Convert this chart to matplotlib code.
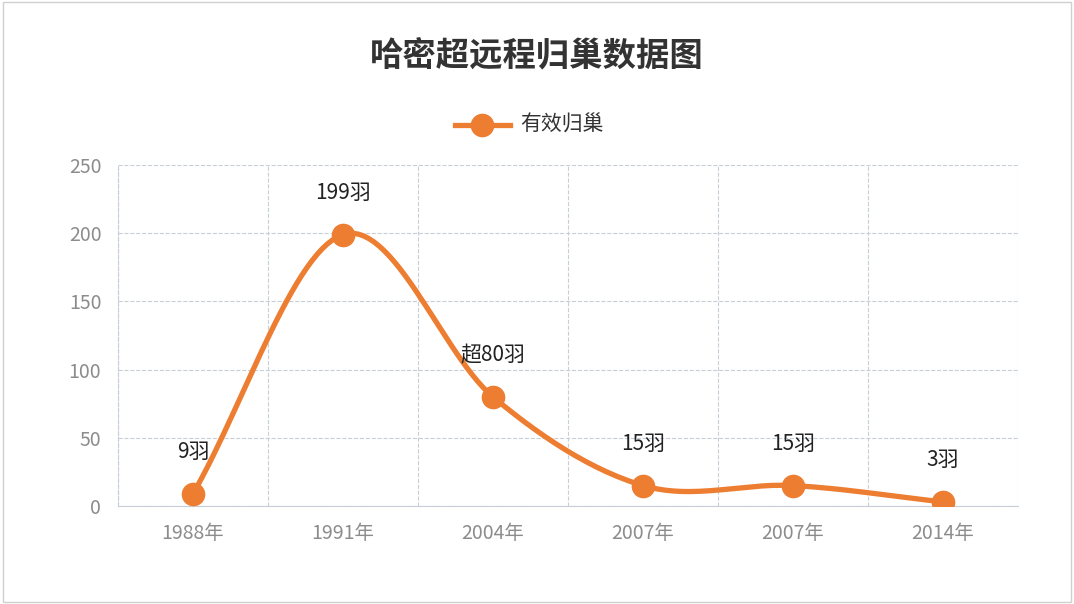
import matplotlib.pyplot as plt
import numpy as np

plt.rcParams['font.family'] = ['Noto Sans CJK SC', 'DejaVu Sans']

years = ['1988年', '1991年', '2004年', '2007年', '2007年', '2014年']
values = [9, 199, 80, 15, 15, 3]
labels = ['9羽', '199羽', '超80羽', '15羽', '15羽', '3羽']
orange = '#ED7D31'


def smooth(x, y, n=30):
    # Catmull-Rom style curve through the points, only for drawing
    x = np.asarray(x, float)
    y = np.asarray(y, float)
    px = np.concatenate([[2 * x[0] - x[1]], x, [2 * x[-1] - x[-2]]])
    py = np.concatenate([[2 * y[0] - y[1]], y, [2 * y[-1] - y[-2]]])
    xs, ys = [], []
    t = np.linspace(0, 1, n)
    for i in range(1, len(px) - 2):
        for p, out in ((px, xs), (py, ys)):
            p0, p1, p2, p3 = p[i - 1], p[i], p[i + 1], p[i + 2]
            out.extend(0.5 * (2 * p1 + (-p0 + p2) * t
                              + (2 * p0 - 5 * p1 + 4 * p2 - p3) * t ** 2
                              + (-p0 + 3 * p1 - 3 * p2 + p3) * t ** 3))
    return xs, ys


fig = plt.figure(figsize=(10.74, 6.04), dpi=100)
fig.patches.append(plt.Rectangle((0.003, 0.003), 0.994, 0.994, transform=fig.transFigure,
                                 fill=False, edgecolor='#d0d0d0', linewidth=1))
ax = fig.add_axes([118 / 1074, 1 - 506 / 604, 900 / 1074, 341 / 604])

x = np.arange(len(values))
sx, sy = smooth(x, values)
ax.plot(sx, sy, color=orange, linewidth=3.8, solid_capstyle='round', zorder=3)
ax.plot(x, values, 'o', color=orange, markersize=16, zorder=4)
for xi, v, lab in zip(x, values, labels):
    ax.annotate(lab, (xi, v), xytext=(0, 22), textcoords='offset points',
                ha='center', va='bottom', fontsize=15, color='#222222')

ax.set_xlim(-0.5, len(values) - 0.5)
ax.set_ylim(0, 250)
ax.set_yticks(range(0, 251, 50))
ax.set_xticks(x)
ax.set_xticklabels(years)
ax.set_xticks(np.arange(-0.5, len(values), 1), minor=True)
ax.grid(True, which='minor', axis='x', linestyle='--', color='#c8ced8', linewidth=0.8)
ax.grid(True, which='major', axis='y', linestyle='--', color='#c8ced8', linewidth=0.8)
ax.tick_params(axis='both', which='both', length=0, colors='#8c8c8c', labelsize=14, pad=12)
for s in ['top', 'right']:
    ax.spines[s].set_visible(False)
ax.spines['left'].set_color('#c8ced8')
ax.spines['bottom'].set_color('#c8ced8')
ax.spines['left'].set_linestyle('--')

fig.text(0.5, 1 - 57 / 604, '哈密超远程归巢数据图', ha='center', va='center',
         fontsize=24, fontweight='bold', color='#333333')
fig.lines.append(plt.Line2D([455 / 1074, 510 / 1074], [1 - 125 / 604] * 2,
                            transform=fig.transFigure, color=orange, linewidth=3.8))
fig.lines.append(plt.Line2D([482 / 1074], [1 - 125 / 604], transform=fig.transFigure,
                            marker='o', markersize=16, color=orange))
fig.text(520 / 1074, 1 - 125 / 604, '有效归巢', ha='left', va='center', fontsize=15, color='#333333')

fig.savefig('out.png', dpi=100)
